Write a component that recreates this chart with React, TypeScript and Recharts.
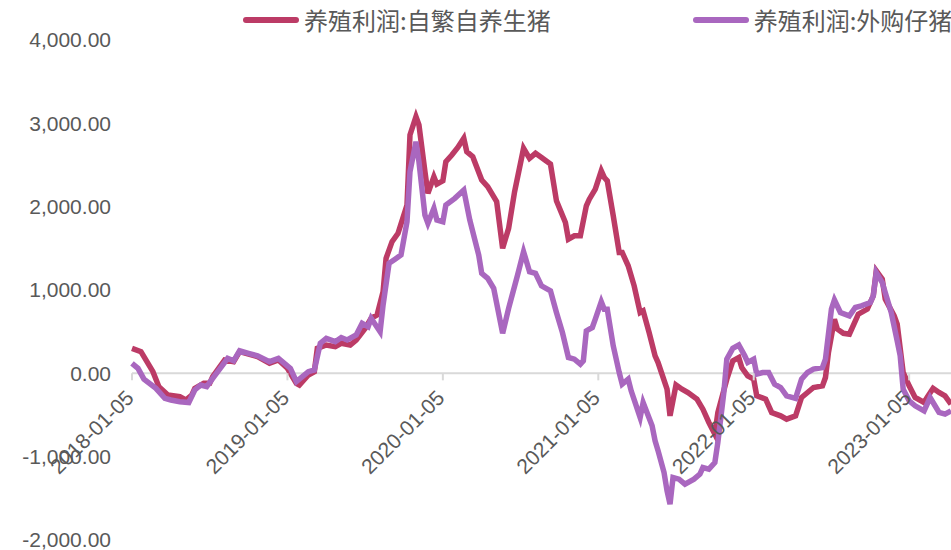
import { LineChart, Line, XAxis, YAxis, ReferenceLine } from "recharts";

// weekly index (0 = 2018-01-05), values in yuan per head
const redWeeks = [0, 3, 7, 9, 12, 16, 18, 20, 21, 24, 26, 27, 31, 34, 36, 42, 46, 49, 52, 55, 56, 59, 61, 62, 65, 68, 70, 73, 75, 78, 80, 82, 84, 85, 87, 89, 92, 93, 95, 96, 98, 99, 101, 102, 104, 105, 107, 109, 111, 112, 114, 117, 119, 122, 124, 126, 128, 131, 133, 135, 137, 140, 142, 145, 146, 148, 150, 152, 153, 155, 157, 158, 159, 161, 163, 164, 166, 168, 170, 171, 173, 175, 176, 179, 180, 182, 184, 186, 189, 191, 193, 195, 196, 199, 201, 203, 204, 206, 208, 209, 212, 214, 217, 219, 222, 224, 226, 228, 231, 232, 233, 235, 236, 238, 240, 242, 243, 246, 248, 249, 251, 252, 255, 256, 258, 260, 262, 265, 266, 268, 270, 272, 274];
const redValues = [300, 260, 20, -160, -260, -280, -320, -260, -180, -120, -120, -40, 160, 140, 260, 200, 120, 160, 60, -120, -140, -20, 20, 300, 340, 320, 360, 340, 400, 540, 660, 700, 980, 1380, 1580, 1680, 2020, 2860, 3080, 2980, 2420, 2160, 2360, 2270, 2310, 2540, 2620, 2710, 2820, 2660, 2600, 2320, 2240, 2060, 1500, 1740, 2180, 2700, 2580, 2640, 2590, 2510, 2070, 1810, 1610, 1650, 1650, 2010, 2090, 2210, 2430, 2350, 2310, 1890, 1450, 1450, 1290, 1050, 730, 750, 490, 210, 130, -190, -510, -140, -190, -230, -310, -430, -590, -730, -470, -70, 150, 190, 70, -30, -70, -270, -310, -470, -510, -550, -510, -290, -230, -170, -150, -50, 250, 650, 530, 480, 470, 630, 710, 770, 930, 1230, 1130, 890, 690, 590, 10, -150, -290, -350, -290, -180, -230, -270, -370];

const purpleWeeks = [0, 2, 4, 8, 11, 13, 16, 19, 21, 23, 25, 27, 32, 34, 36, 39, 42, 46, 49, 53, 55, 59, 61, 63, 65, 68, 70, 72, 75, 77, 79, 80, 83, 84, 86, 88, 90, 92, 93, 95, 96, 98, 99, 101, 102, 104, 105, 108, 111, 113, 116, 117, 119, 121, 124, 126, 129, 131, 133, 135, 137, 140, 142, 144, 146, 148, 150, 151, 152, 154, 155, 157, 158, 159, 161, 163, 164, 166, 167, 170, 171, 174, 175, 176, 178, 179, 180, 181, 183, 185, 188, 190, 191, 193, 195, 196, 198, 199, 201, 203, 205, 206, 208, 209, 211, 213, 215, 217, 219, 222, 224, 226, 228, 231, 232, 234, 235, 237, 240, 242, 244, 247, 248, 249, 251, 254, 256, 257, 258, 260, 262, 265, 267, 270, 272, 274];
const purpleValues = [120, 60, -70, -180, -300, -320, -340, -350, -200, -140, -160, -60, 180, 150, 270, 240, 210, 140, 180, 60, -100, 20, 40, 360, 420, 380, 430, 400, 460, 600, 560, 660, 500, 820, 1320, 1370, 1420, 1820, 2420, 2780, 2540, 1900, 1800, 1980, 1840, 1820, 2020, 2100, 2200, 1840, 1420, 1200, 1140, 1020, 480, 780, 1180, 1460, 1220, 1200, 1050, 990, 730, 490, 190, 170, 110, 150, 510, 550, 650, 860, 770, 770, 330, 10, -130, -70, -210, -530, -350, -630, -810, -930, -1190, -1410, -1570, -1250, -1270, -1330, -1270, -1210, -1130, -1150, -1070, -830, -230, 170, 300, 340, 210, 130, 170, -10, 10, 10, -130, -170, -270, -300, -70, 10, 50, 70, 170, 770, 880, 730, 690, 790, 810, 850, 930, 1210, 1090, 730, 390, 210, -190, -330, -390, -450, -290, -470, -490, -450];

const tickWeeks = [0, 52, 104, 156, 208, 260];
const tickLabels = ["2018-01-05", "2019-01-05", "2020-01-05", "2021-01-05", "2022-01-05", "2023-01-05"];
const yTicks = [-2000, -1000, 0, 1000, 2000, 3000, 4000];

const seriesNames = ["养殖利润:自繁自养生猪", "养殖利润:外购仔猪"];
const seriesColors = ["#bc3b66", "#a967bf"];

const W = 951;
const H = 550;
const X_AXIS_H = 10;
const MARGIN = { top: 40, right: 0, bottom: 0, left: 0 };
const Y_MIN = -2000;
const Y_MAX = 4000;
const PLOT_H = H - MARGIN.top - MARGIN.bottom - X_AXIS_H;
const ZERO_Y = MARGIN.top + (PLOT_H * Y_MAX) / (Y_MAX - Y_MIN);

const LATIN = "'Liberation Sans', Arial, sans-serif";
const CJK = "'Noto Sans CJK SC', sans-serif";

// merge both series into one table, keyed by week
const allWeeks = Array.from(new Set([...redWeeks, ...purpleWeeks])).sort((a, b) => a - b);
const data = allWeeks.map((w) => {
  const ri = redWeeks.indexOf(w);
  const pi = purpleWeeks.indexOf(w);
  return {
    week: w,
    red: ri >= 0 ? redValues[ri] : undefined,
    purple: pi >= 0 ? purpleValues[pi] : undefined,
  };
});

function fmtY(v: number) {
  return v.toLocaleString("en-US", { minimumFractionDigits: 2, maximumFractionDigits: 2 });
}

function DateTick(props: any) {
  const { x, payload } = props;
  const label = tickLabels[tickWeeks.indexOf(payload.value)];
  const ax = x + 3;
  const ay = ZERO_Y + 26;
  return (
    <g>
      <line x1={x} x2={x} y1={ZERO_Y} y2={ZERO_Y + 7} stroke="#d9d9d9" strokeWidth={2} />
      <text
        x={ax}
        y={ay}
        textAnchor="end"
        transform={`rotate(-45 ${ax} ${ay})`}
        fill="#595959"
        fontSize={21}
        fontFamily={LATIN}
      >
        {label}
      </text>
    </g>
  );
}

export default function App() {
  return (
    <div style={{ position: "absolute", left: 0, top: 0, width: W, height: H, background: "#fff" }}>
      <LineChart width={W} height={H} data={data} margin={MARGIN}>
        <XAxis
          dataKey="week"
          type="number"
          domain={[0, 274]}
          ticks={tickWeeks}
          interval={0}
          height={X_AXIS_H}
          axisLine={false}
          tickLine={false}
          tick={<DateTick />}
        />
        <YAxis
          type="number"
          domain={[Y_MIN, Y_MAX]}
          ticks={yTicks}
          interval={0}
          width={132}
          axisLine={false}
          tickLine={false}
          tickSize={0}
          tickMargin={21}
          tickFormatter={fmtY}
          tick={{ fill: "#595959", fontSize: 21, fontFamily: LATIN }}
        />
        <ReferenceLine y={0} stroke="#d9d9d9" strokeWidth={2} />
        <Line
          dataKey="red"
          name={seriesNames[0]}
          stroke={seriesColors[0]}
          strokeWidth={5.5}
          dot={false}
          connectNulls
          isAnimationActive={false}
        />
        <Line
          dataKey="purple"
          name={seriesNames[1]}
          stroke={seriesColors[1]}
          strokeWidth={5.5}
          dot={false}
          connectNulls
          isAnimationActive={false}
        />
      </LineChart>
      <div
        style={{
          position: "absolute",
          top: 5,
          left: 243,
          height: 30,
          display: "flex",
          alignItems: "center",
          fontFamily: CJK,
          fontSize: 24,
          color: "#595959",
          whiteSpace: "nowrap",
        }}
      >
        {seriesNames.map((n, i) => (
          <div key={n} style={{ display: "flex", alignItems: "center", marginRight: i === 0 ? 142 : 0 }}>
            <span
              style={{
                display: "inline-block",
                width: 56,
                height: 6,
                borderRadius: 3,
                background: seriesColors[i],
                marginRight: 5,
              }}
            />
            <span style={{ lineHeight: "30px" }}>{n}</span>
          </div>
        ))}
      </div>
    </div>
  );
}
